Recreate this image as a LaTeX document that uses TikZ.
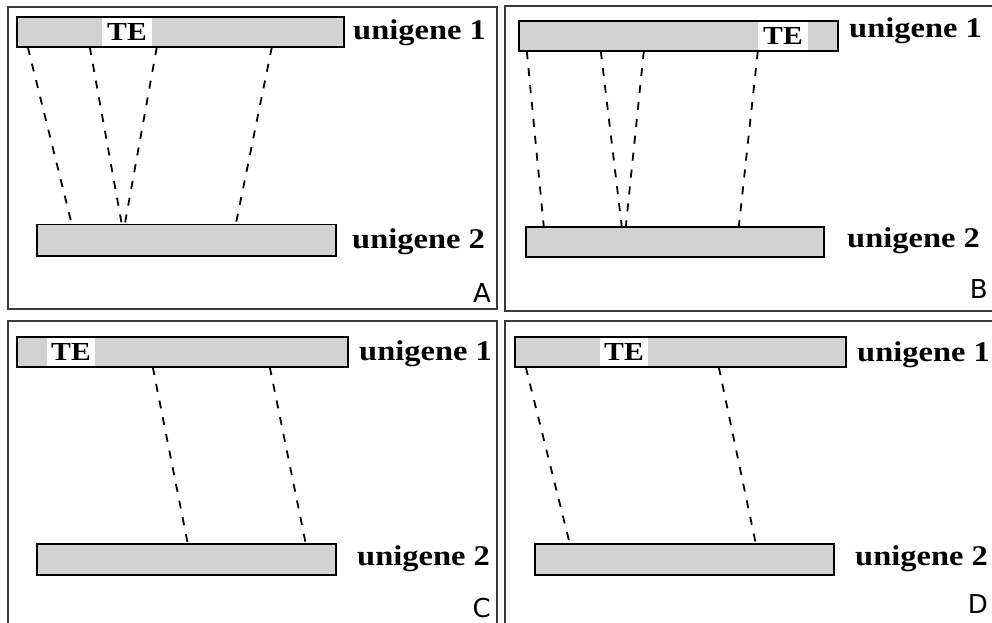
\documentclass[tikz,border=0pt]{standalone}
\usepackage{fontspec}
\usetikzlibrary{calc}
\newfontfamily\genefont[FakeStretch=1.14]{Liberation Serif}
\newfontfamily\panelfont{DejaVu Sans}
\definecolor{framegray}{HTML}{3A3A3A}
\definecolor{barfill}{HTML}{D2D2D2}
\begin{document}
\begin{tikzpicture}[x=1pt,y=-1pt,
  panel/.style={draw=framegray, line width=2.6pt},
  bar/.style={fill=barfill, inner sep=0pt, minimum height=30pt},
  barline/.style={draw=black, line width=1.6pt},
  tebox/.style={fill=white, inner sep=0pt, minimum width=50pt, minimum height=29pt,
    font=\genefont\bfseries\fontsize{26}{26}\selectfont},
  genelabel/.style={anchor=base west, inner sep=0pt, font=\genefont\bfseries\fontsize{28.5}{28.5}\selectfont},
  paneltag/.style={anchor=base east, inner sep=0pt, font=\panelfont\fontsize{26}{26}\selectfont},
  link/.style={draw=black, line width=1.8pt, dash pattern=on 8pt off 9pt}]
\useasboundingbox (0,0) rectangle (992,623);
\fill[white] (0,0) rectangle (992,623);

% panel frames
\draw[panel] (8,7) rectangle (497,309);
\draw[panel] (505,6) rectangle (996,311);
\draw[panel] (8,321) rectangle (497,628);
\draw[panel] (505,321) rectangle (996,628);

% ---------- bars (fill) ----------
\node[bar, minimum width=327pt] (A1) at (180.5,32) {};
\node[bar, minimum width=299pt, minimum height=31pt] (A2) at (186.5,240) {};
\node[bar, minimum width=319pt] (B1) at (678.5,36) {};
\node[bar, minimum width=298pt] (B2) at (675,242) {};
\node[bar, minimum width=331pt] (C1) at (182.5,352) {};
\node[bar, minimum width=299pt, minimum height=31pt] (C2) at (186.5,559.5) {};
\node[bar, minimum width=331pt] (D1) at (680.5,352) {};
\node[bar, minimum width=299pt, minimum height=31pt] (D2) at (684.5,559.5) {};

% ---------- TE insertions ----------
\node[tebox] (teA) at (127,32) {TE};
\node[tebox] (teB) at (783,36) {TE};
\node[tebox, minimum width=48pt] (teC) at (71,352) {TE};
\node[tebox, minimum width=48pt] (teD) at (624,352) {TE};

% ---------- bar outlines ----------
\foreach \b in {A1,A2,B1,B2,C1,C2,D1,D2}
  \draw[barline] (\b.north west) rectangle (\b.south east);

% ---------- labels ----------
\node[genelabel] (A1l) at (353,40) {unigene 1};
\node[genelabel] (A2l) at (352,248) {unigene 2};
\node[paneltag] (tagA) at (491,302) {A};
\node[genelabel] (B1l) at (849,38) {unigene 1};
\node[genelabel] (B2l) at (847,247) {unigene 2};
\node[paneltag] (tagB) at (988,298) {B};
\node[genelabel] (C1l) at (359,360) {unigene 1};
\node[genelabel] (C2l) at (357,565) {unigene 2};
\node[paneltag] (tagC) at (491,617) {C};
\node[genelabel] (D1l) at (857,361) {unigene 1};
\node[genelabel] (D2l) at (855,565) {unigene 2};
\node[paneltag] (tagD) at (988,613) {D};

% ---------- matching segments ----------
\draw[link] ($(A1.south west)+(11,0)$) -- ($(A2.north west)+(35,0)$);
\draw[link] ($(A1.south west)+(73,0)$) -- ($(A2.north west)+(85,0)$);
\draw[link] ($(A1.south west)+(140,0)$) -- ($(A2.north west)+(88,0)$);
\draw[link] ($(A1.south west)+(255,0)$) -- ($(A2.north west)+(199,0)$);

\draw[link] ($(B1.south west)+(8,0)$) -- ($(B2.north west)+(18,0)$);
\draw[link] ($(B1.south west)+(82,0)$) -- ($(B2.north west)+(96,0)$);
\draw[link] ($(B1.south west)+(125,0)$) -- ($(B2.north west)+(100,0)$);
\draw[link] ($(B1.south west)+(239,0)$) -- ($(B2.north west)+(213,0)$);

\draw[link] ($(C1.south west)+(136,0)$) -- ($(C2.north west)+(151,0)$);
\draw[link] ($(C1.south west)+(253,0)$) -- ($(C2.north west)+(269,0)$);

\draw[link] ($(D1.south west)+(11,0)$) -- ($(D2.north west)+(35,0)$);
\draw[link] ($(D1.south west)+(204,0)$) -- ($(D2.north west)+(221,0)$);
\end{tikzpicture}
\end{document}
